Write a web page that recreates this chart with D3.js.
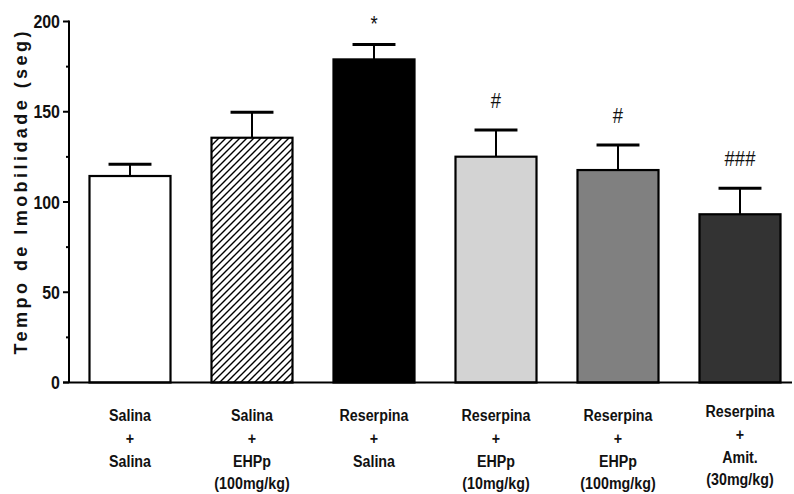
<!DOCTYPE html>
<html>
<head>
<meta charset="utf-8">
<script src="https://cdn.jsdelivr.net/npm/d3@7"></script>
<style>
  html, body { margin: 0; padding: 0; background: #fff; }
  svg { display: block; }
  .lbl { font-family: "Liberation Sans", Arial, sans-serif; }
</style>
</head>
<body>
<svg id="chart" width="794" height="494"></svg>
<script>
// Groups (multi-line labels, one entry per line)
const groups = [
  ["Salina", "+", "Salina"],
  ["Salina", "+", "EHPp", "(100mg/kg)"],
  ["Reserpina", "+", "Salina"],
  ["Reserpina", "+", "EHPp", "(10mg/kg)"],
  ["Reserpina", "+", "EHPp", "(100mg/kg)"],
  ["Reserpina", "+", "Amit.", "(30mg/kg)"]
];
// Mean immobility time (s) and SEM
const means = [114.4, 135.6, 179.0, 125.1, 117.7, 93.2];
const sems  = [6.5, 14.1, 8.3, 14.8, 13.9, 14.4];
// Significance markers
const marks = ["", "", "*", "#", "#", "###"];
// Bar fills
const fills = ["#ffffff", "url(#hatch)", "#000000", "#d3d3d3", "#808080", "#333333"];
// Y axis ticks
const majorTicks = [0, 50, 100, 150, 200];
const minorTicks = [25, 75, 125, 175];

const svg = d3.select("#chart");
const mLeft = 69, mRight = 801, mTop = 21.5, mBottom = 382.5;
const narrow = 0.84; // horizontal squeeze for the condensed label face

const keys = groups.map((g, i) => "g" + i);
const x = d3.scaleBand().domain(keys).range([mLeft, mRight])
  .paddingInner(0.336).paddingOuter(0.168);
const y = d3.scaleLinear().domain([0, 200]).range([mBottom, mTop]);
const cx = i => x(keys[i]) + x.bandwidth() / 2;

// Diagonal hatch pattern
const defs = svg.append("defs");
const pat = defs.append("pattern")
  .attr("id", "hatch").attr("patternUnits", "userSpaceOnUse")
  .attr("width", 7).attr("height", 7);
pat.append("rect").attr("width", 7).attr("height", 7).attr("fill", "#fff");
pat.append("path")
  .attr("d", "M0,7 L7,0 M-2,2 L2,-2 M5,9 L9,5")
  .attr("stroke", "#000").attr("stroke-width", 1.4);

// Bars
svg.append("g").selectAll("rect").data(means).join("rect")
  .attr("x", (d, i) => x(keys[i]))
  .attr("y", d => y(d))
  .attr("width", x.bandwidth())
  .attr("height", d => y(0) - y(d))
  .attr("fill", (d, i) => fills[i])
  .attr("stroke", "#000").attr("stroke-width", 2.2);

// Error bars (upper only)
const eb = svg.append("g").selectAll("g").data(means).join("g");
eb.append("line")
  .attr("x1", (d, i) => cx(i)).attr("x2", (d, i) => cx(i))
  .attr("y1", d => y(d))
  .attr("y2", (d, i) => y(d + sems[i]))
  .attr("stroke", "#000").attr("stroke-width", 2);
eb.append("line")
  .attr("x1", (d, i) => cx(i) - x.bandwidth() * 0.265)
  .attr("x2", (d, i) => cx(i) + x.bandwidth() * 0.265)
  .attr("y1", (d, i) => y(d + sems[i]))
  .attr("y2", (d, i) => y(d + sems[i]))
  .attr("stroke", "#000").attr("stroke-width", 3);

// Significance symbols
svg.append("g").selectAll("text").data(marks).join("text")
  .attr("class", "lbl")
  .attr("transform", (d, i) =>
    `translate(${cx(i)},${y(means[i] + sems[i]) - (d === "*" ? 13 : 22)}) scale(${narrow},1)`)
  .attr("text-anchor", "middle")
  .attr("font-size", 22)
  .attr("fill", "#111")
  .text(d => d);

// Y axis
const yAxis = svg.append("g");
yAxis.append("line")
  .attr("x1", mLeft).attr("x2", mLeft).attr("y1", y(200) - 1).attr("y2", y(0))
  .attr("stroke", "#000").attr("stroke-width", 2);
yAxis.selectAll(".maj").data(majorTicks).join("line")
  .attr("x1", mLeft - 6).attr("x2", mLeft)
  .attr("y1", d => y(d)).attr("y2", d => y(d))
  .attr("stroke", "#000").attr("stroke-width", 2);
yAxis.selectAll(".min").data(minorTicks).join("line")
  .attr("x1", mLeft - 3).attr("x2", mLeft)
  .attr("y1", d => y(d)).attr("y2", d => y(d))
  .attr("stroke", "#000").attr("stroke-width", 2);
yAxis.selectAll("text").data(majorTicks).join("text")
  .attr("class", "lbl")
  .attr("transform", d => `translate(${mLeft - 9},${y(d)}) scale(${narrow},1)`)
  .attr("dy", "0.35em")
  .attr("text-anchor", "end")
  .attr("font-size", 19).attr("font-weight", "bold")
  .attr("fill", "#111")
  .text(d => d);

// X axis baseline
svg.append("line")
  .attr("x1", mLeft - 6).attr("x2", 792)
  .attr("y1", y(0)).attr("y2", y(0))
  .attr("stroke", "#000").attr("stroke-width", 2.2);

// Y axis title
svg.append("text")
  .attr("class", "lbl")
  .attr("transform", "translate(27,193) rotate(-90)")
  .attr("text-anchor", "middle")
  .attr("font-size", 18).attr("font-weight", "bold")
  .attr("fill", "#111")
  .attr("textLength", 323).attr("lengthAdjust", "spacing")
  .text("Tempo de Imobilidade (seg)");

// Category labels
const xl = svg.append("g").selectAll("text").data(groups).join("text")
  .attr("class", "lbl")
  .attr("text-anchor", "middle")
  .attr("font-size", 17).attr("font-weight", "bold")
  .attr("fill", "#111")
  .attr("transform", (d, i) =>
    `translate(${cx(i)},${i === 5 ? 417 : 421}) scale(${narrow},1)`);
xl.selectAll("tspan").data(d => d).join("tspan")
  .attr("x", 0)
  .attr("y", (d, j) => j * 22.8)
  .text(d => d);
</script>
</body>
</html>
